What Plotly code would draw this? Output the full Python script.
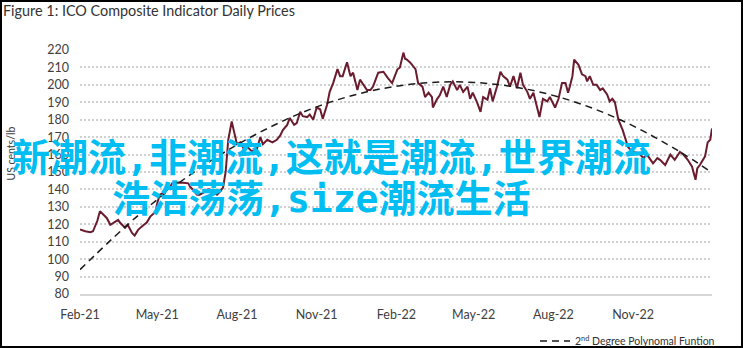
import pandas as pd
import plotly.graph_objects as go

# ---------------- data ----------------
start_date = "2021-02-01"
# day offsets from start_date and ICO composite indicator price (US cents/lb)
price_day = [0, 6, 12, 15, 20, 23, 28, 31, 35, 40, 44, 46, 52, 55, 60, 63, 67, 72, 77, 81,
             87, 89, 92, 96, 100, 104, 107, 112, 119, 125, 127, 130, 135, 138, 142, 147, 150, 155, 158, 162,
             165, 168, 171, 175, 179, 181, 185, 189, 193, 198, 204, 208, 211, 216, 222, 227, 231, 234, 239, 242,
             247, 250, 254, 257, 262, 265, 269, 273, 277, 280, 285, 288, 292, 297, 300, 303, 308, 312, 315, 320,
             323, 327, 331, 335, 338, 344, 350, 355, 360, 366, 369, 373, 375, 377, 381, 387, 390, 395, 398, 402,
             406, 407, 412, 415, 419, 423, 427, 430, 435, 438, 442, 447, 450, 453, 458, 462, 465, 470, 473, 476,
             481, 485, 488, 493, 496, 500, 504, 508, 511, 516, 519, 523, 527, 530, 534, 539, 542, 548, 552, 556,
             560, 563, 565, 568, 570, 575, 579, 583, 585, 588, 592, 596, 600, 603, 608, 611, 614, 617, 621, 626,
             632, 637, 644, 650, 654, 658, 661, 666, 669, 675, 681, 686, 692, 696, 701, 706, 710, 712, 715, 721,
             724, 727, 729]
price_val = [117, 116, 115.5, 116, 122, 127.5, 125, 123.5, 119.7, 121.5, 122.5, 121, 118, 119.7, 115, 113.5, 116.8, 119, 121, 124.4,
             127, 132, 137, 138, 140, 141.5, 144, 144, 143.8, 143.5, 141.5, 140, 137, 137, 138, 140, 140, 138, 137, 139,
             141, 150, 168.5, 179, 170, 166, 167, 163, 164.5, 162, 163, 170, 166, 168.5, 167, 168.5, 171, 174, 177, 181,
             177, 178, 184.5, 182, 181.5, 183, 180, 187, 186, 180.5, 188.6, 196, 201, 209, 205, 205, 213, 205, 207, 197,
             203, 200, 197, 197, 199, 207, 207.5, 204, 201, 208.8, 210, 218.5, 215, 214.5, 212.7, 209, 201, 199, 193, 195.5,
             193, 187, 192, 194, 199, 193, 200, 202, 197, 200, 196, 199, 192, 195.5, 190, 184.5, 193, 191.5, 198, 190.5,
             199, 207.5, 205, 203, 199, 205, 198, 207, 200, 196, 192, 195.5, 187, 181.5, 192, 190.5, 193, 187, 192, 201,
             201, 195.5, 199, 205, 214.5, 211.5, 206, 205, 202, 205, 200, 200, 197, 198, 194.5, 190.5, 192, 190, 180, 174,
             164.5, 161.5, 161, 158, 160, 157, 155, 158, 157, 154, 160, 157, 161.5, 160, 157, 153, 145.5, 152, 154, 159,
             167, 168.5, 175]

# 2nd degree polynomial trend, sampled from the dashed curve
trend_day = [0, 69, 138, 208, 277, 346, 415, 485, 554, 623, 692, 729]
trend_val = [94.0, 125.9, 152.2, 172.9, 188.1, 197.6, 201.6, 200.0, 192.8, 180.0, 161.6, 149.5]

tick_dates = ["2021-02-01", "2021-05-01", "2021-08-01", "2021-11-01",
              "2022-02-01", "2022-05-01", "2022-08-01", "2022-11-01"]
y_ticks = list(range(80, 230, 10))

title_text = "Figure 1: ICO Composite Indicator Daily Prices"
y_title = "US cents/lb"
trend_name = "2<sup>nd</sup> Degree Polynomal Funtion"
overlay_line1 = "新潮流,非潮流,这就是潮流,世界潮流"
overlay_line2 = "浩浩荡荡,size潮流生活"

# ---------------- figure ----------------
t0 = pd.Timestamp(start_date)
price_dates = t0 + pd.to_timedelta(price_day, unit="D")
trend_dates = t0 + pd.to_timedelta(trend_day, unit="D")

W, H = 743, 348
L, R, T, B = 80, 31, 50, 54
PW, PH = W - L - R, H - T - B


def px_x(px):
    return (px - L) / PW


def px_y(py):
    return (H - B - py) / PH


fig = go.Figure()
fig.add_trace(go.Scatter(x=price_dates, y=price_val, mode="lines",
                         line=dict(color="#6a1b2e", width=2),
                         name="ICO Composite Indicator", showlegend=False))
fig.add_trace(go.Scatter(x=trend_dates, y=trend_val, mode="lines",
                         line=dict(color="#1a1a1a", width=1.5, dash="7px,5px", shape="spline"),
                         name=trend_name, showlegend=True))

tick_font = dict(family="Lato", size=12.5, color="#404040")

fig.update_layout(
    width=W, height=H,
    margin=dict(l=L, r=R, t=T, b=B, autoexpand=False),
    paper_bgcolor="white", plot_bgcolor="white",
    title=dict(text=title_text, x=3 / W, xref="container", xanchor="left",
               y=1 - 6 / H, yref="container", yanchor="top",
               font=dict(family="Lato", size=14.4, color="#333333")),
    xaxis=dict(type="date", range=["2021-02-01", "2023-01-31"],
               tickvals=tick_dates, tickformat="%b-%y", automargin=False,
               showgrid=False, zeroline=False,
               showline=True, linecolor="#d6d6d6", linewidth=1.5,
               ticks="", tickfont=tick_font, ticklabelstandoff=8),
    yaxis=dict(range=[80, 220], tickvals=y_ticks, automargin=False,
               showgrid=True, gridcolor="#d0d0d0", gridwidth=2, griddash="2px,2px",
               zeroline=False, showline=False, ticks="",
               tickfont=tick_font, ticklabelstandoff=10),
    legend=dict(orientation="h", x=720 / W, xanchor="right", xref="container",
                y=(H - 341) / H, yanchor="middle", yref="container",
                bgcolor="rgba(0,0,0,0)", itemwidth=30,
                font=dict(family="Lato", size=10.5, color="#333333")),
    showlegend=True,
)

overlay_font = dict(family="DejaVu Sans Mono, Noto Sans CJK SC", size=38,
                    color="#00bdf2", weight="bold")

fig.add_annotation(text=y_title, textangle=-90, xref="paper", yref="paper",
                   x=px_x(10), y=px_y(153.5), xanchor="center", yanchor="middle",
                   showarrow=False, font=dict(family="Lato", size=10.5, color="#404040"))
fig.add_annotation(text=overlay_line1, xref="paper", yref="paper",
                   x=px_x(10), y=px_y(158), xanchor="left", yanchor="middle",
                   showarrow=False, font=overlay_font)
fig.add_annotation(text=overlay_line2, xref="paper", yref="paper",
                   x=px_x(110), y=px_y(199), xanchor="left", yanchor="middle",
                   showarrow=False, font=overlay_font)

fig.add_shape(type="rect", xref="paper", yref="paper",
              x0=px_x(1), x1=px_x(742), y0=px_y(347), y1=px_y(1),
              line=dict(color="black", width=2), fillcolor="rgba(0,0,0,0)", layer="above")

fig.write_html("out.html")
